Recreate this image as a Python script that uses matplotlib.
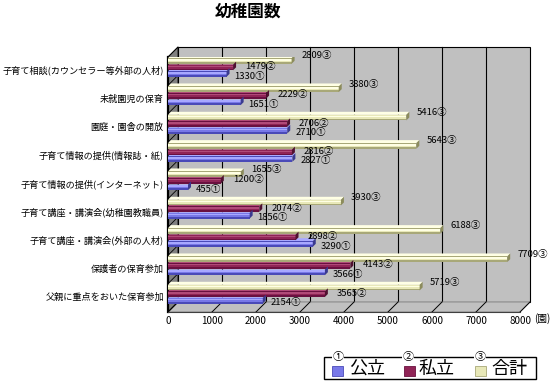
import matplotlib
matplotlib.use("Agg")
import matplotlib.pyplot as plt
from matplotlib.patches import Rectangle, Polygon
from matplotlib import transforms

plt.rcParams['font.family'] = ['Noto Sans CJK JP', 'DejaVu Sans']

# datos
categorias = ['子育て相談(カウンセラー等外部の人材)', '未就園児の保育', '園庭・園舎の開放',
              '子育て情報の提供(情報誌・紙)', '子育て情報の提供(インターネット)',
              '子育て講座・講演会(幼稚園教職員)', '子育て講座・講演会(外部の人材)',
              '保護者の保育参加', '父親に重点をおいた保育参加']
publico = [1330, 1651, 2710, 2827, 455, 1856, 3290, 3566, 2154]
privado = [1479, 2229, 2706, 2816, 1200, 2074, 2898, 4143, 3565]
total = [2809, 3880, 5416, 5643, 1655, 3930, 6188, 7709, 5719]
series_nombres = ['公立', '私立', '合計']
marcas = ['①', '②', '③']
xticks = [0, 1000, 2000, 3000, 4000, 5000, 6000, 7000, 8000]

W, H = 556, 381
fig = plt.figure(figsize=(W / 100, H / 100), dpi=100)

# area frontal del grafico en pixeles
x0, x1, ytop, ybot = 168, 520, 57, 312
ax = fig.add_axes([x0 / W, 1 - ybot / H, (x1 - x0) / W, (ybot - ytop) / H])
XMAX = 8000
YLO, YHI = 8.55, -0.45
ax.set_xlim(0, XMAX)
ax.set_ylim(YLO, YHI)
ux = XMAX / (x1 - x0)          # unidades por pixel en x
uy = (YLO - YHI) / (ybot - ytop)  # unidades por pixel en y
D = 10  # profundidad en pixeles

# pared del fondo
back = transforms.offset_copy(ax.transData, fig=fig, x=D, y=D, units='dots')
ax.add_patch(Rectangle((0, YLO), XMAX, YHI - YLO, transform=back, fc='#c0c0c0',
                       ec='black', lw=0.8, clip_on=False, zorder=0))
for k in xticks[1:-1]:
    ax.plot([k, k], [YLO, YHI], transform=back, color='black', lw=0.8, clip_on=False, zorder=0.5)

# pared izquierda
ax.add_patch(Polygon([(0, YHI), (D * ux, YHI - D * uy), (D * ux, YLO - D * uy), (0, YLO)],
                     fc='#808080', ec='black', lw=0.6, clip_on=False, zorder=0.6))
# piso
ax.add_patch(Polygon([(0, YLO), (XMAX, YLO), (XMAX + D * ux, YLO - D * uy), (D * ux, YLO - D * uy)],
                     fc='#c0c0c0', ec='#808080', lw=0.6, clip_on=False, zorder=0.6))
for k in xticks:
    ax.plot([k, k + D * ux], [YLO, YLO - D * uy], color='black', lw=0.7, clip_on=False, zorder=0.7)
# marcas en la pared izquierda
for i in range(len(categorias) + 1):
    yy = i - 0.45
    ax.plot([0, D * ux], [yy, yy - D * uy], color='black', lw=0.6, clip_on=False, zorder=0.7)
ax.plot([0, 0], [YHI, YLO], color='black', lw=1.6, clip_on=False, zorder=0.8)
ax.plot([0, XMAX], [YLO, YLO], color='#404040', lw=0.8, clip_on=False, zorder=0.8)

# barras 3D
colores = [('#4a4ab8', '#7878e8', '#a8a8ff', '#3a3a90'),
           ('#6a1040', '#902456', '#b04a78', '#501030'),
           ('#a8a878', '#e8e8b8', '#ffffe4', '#8c8c5c')]
desplaz = [0.15, -0.08, -0.31]
h = 0.2
dd = 3  # profundidad de la barra en pixeles
label_dy = [-2, 1, 5]
label_dx = [8, 12, 10]
datos = [publico, privado, total]
y = list(range(len(categorias)))

for s in [2, 1, 0]:
    c_osc, c_med, c_cla, c_fin = colores[s]
    for i, v in enumerate(datos[s]):
        yc = y[i] + desplaz[s]
        top = yc - h / 2
        bot = yc + h / 2
        # cara superior
        ax.add_patch(Polygon([(0, top), (v, top), (v + dd * ux, top - dd * uy), (dd * ux, top - dd * uy)],
                             fc=c_cla, ec='none', zorder=2))
        # cara frontal con degradado
        ax.barh(yc, v, height=h, color=c_osc, zorder=2.1)
        ax.barh(yc - h * 0.1, v, height=h * 0.6, color=c_med, zorder=2.2)
        ax.barh(yc - h * 0.2, v, height=h * 0.25, color=c_cla, zorder=2.3)
        # extremo
        ax.add_patch(Polygon([(v, top), (v, bot), (v + dd * ux, bot - dd * uy), (v + dd * ux, top - dd * uy)],
                             fc=c_fin, ec='none', zorder=2.4))
        ax.annotate(f'{v}{marcas[s]}', xy=(v, yc), xytext=(label_dx[s], label_dy[s]),
                    textcoords='offset pixels', fontsize=6.8, va='center', ha='left',
                    zorder=5, annotation_clip=False)

# ejes
ax.set_yticks(y)
ax.set_yticklabels(categorias, fontsize=6.6)
ax.set_xticks(xticks)
ax.set_xticklabels([str(t) for t in xticks], fontsize=7)
ax.tick_params(length=0, pad=3)
for sp in ax.spines.values():
    sp.set_visible(False)
ax.patch.set_visible(False)
fig.text(534 / W, 1 - 319 / H, '(園)', fontsize=7, ha='left', va='center')

# titulo
fig.text(248 / W, 1 - 12 / H, '幼稚園数', fontsize=12, fontweight='bold', ha='center', va='center')

# leyenda
fig.add_artist(Rectangle((324 / W, 1 - 379 / H), 212 / W, 22 / H, transform=fig.transFigure,
                         fc='white', ec='black', lw=1))
leg_patch_x = [332, 404, 475]
leg_txt_x = [349, 419, 491]
leg_circ_x = [338, 408, 480]
for s in range(3):
    fig.add_artist(Rectangle((leg_patch_x[s] / W, 1 - 376 / H), 11 / W, 10 / H, transform=fig.transFigure,
                             fc=colores[s][1], ec=colores[s][0], lw=0.6))
    fig.text(leg_txt_x[s] / W, 1 - 369 / H, series_nombres[s], fontsize=13, ha='left', va='center')
    fig.text(leg_circ_x[s] / W, 1 - 357 / H, marcas[s], fontsize=8, ha='center', va='center',
             bbox=dict(fc='white', ec='none', pad=0))

plt.savefig('out.png', dpi=100)
